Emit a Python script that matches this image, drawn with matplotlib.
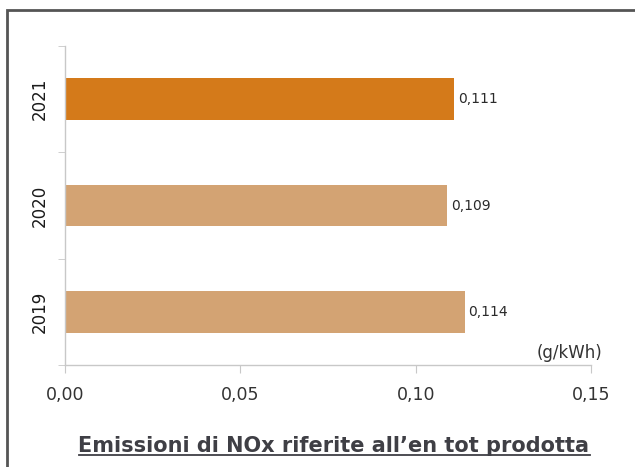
import matplotlib
matplotlib.use("Agg")
import matplotlib.pyplot as plt
from matplotlib.lines import Line2D
from matplotlib.patches import Rectangle

years = ["2019", "2020", "2021"]
values = [0.114, 0.109, 0.111]
value_labels = ["0,114", "0,109", "0,111"]
bar_colors = ["#D3A373", "#D3A373", "#D47A1A"]
x_ticks = [0.0, 0.05, 0.10, 0.15]
x_tick_labels = ["0,00", "0,05", "0,10", "0,15"]
unit_label = "(g/kWh)"
title = "Emissioni di NOx riferite all\u2019en tot prodotta"

W, H = 635, 467
fig = plt.figure(figsize=(W / 100, H / 100), dpi=100)
fig.patch.set_facecolor("white")

# outer frame (left and top visible)
fig.add_artist(Rectangle((7 / W, -0.05), 1.1, 1 - 10 / H + 0.05, transform=fig.transFigure,
                         fill=False, edgecolor="#555555", linewidth=2.0))

ax = fig.add_axes([65 / W, 1 - 365 / H, (591 - 65) / W, (365 - 46) / H])
ypos = list(range(len(years)))
ax.barh(ypos, values, height=0.39, color=bar_colors, edgecolor="none")
ax.set_xlim(0, 0.15)
ax.set_ylim(-0.5, 2.5)

for s in ["top", "right"]:
    ax.spines[s].set_visible(False)
for s in ["left", "bottom"]:
    ax.spines[s].set_color("#C8C8C8")
    ax.spines[s].set_linewidth(1.0)

ax.set_xticks(x_ticks)
ax.set_xticklabels(x_tick_labels, fontsize=12.5, color="#333333")
ax.tick_params(axis="x", length=6, color="#C8C8C8", pad=9)

ax.set_yticks(ypos)
ax.set_yticklabels(years, rotation=90, va="center", fontsize=12, color="#1A1A1A")
ax.tick_params(axis="y", which="major", length=0, pad=12)
ax.set_yticks([-0.5, 0.5, 1.5, 2.5], minor=True)
ax.tick_params(axis="y", which="minor", length=5, color="#C8C8C8")

for y, v, lab in zip(ypos, values, value_labels):
    ax.annotate(lab, (v, y), xytext=(2.5, 0), textcoords="offset points",
                va="center", ha="left", fontsize=10, color="#2A2A2A")

fig.text(602 / W, 1 - 353 / H, unit_label, ha="right", va="center", fontsize=12, color="#333333")

t = fig.text(334 / W, 1 - 446 / H, title, ha="center", va="center", fontsize=15,
             fontweight="bold", color="#3F3F45")
fig.canvas.draw()
bb = t.get_window_extent()
yline = bb.y0 + 1
fig.add_artist(Line2D([bb.x0 / W, bb.x1 / W], [yline / H, yline / H], transform=fig.transFigure,
                      color="#3F3F45", linewidth=1.3))

fig.savefig("out.png", dpi=100)
